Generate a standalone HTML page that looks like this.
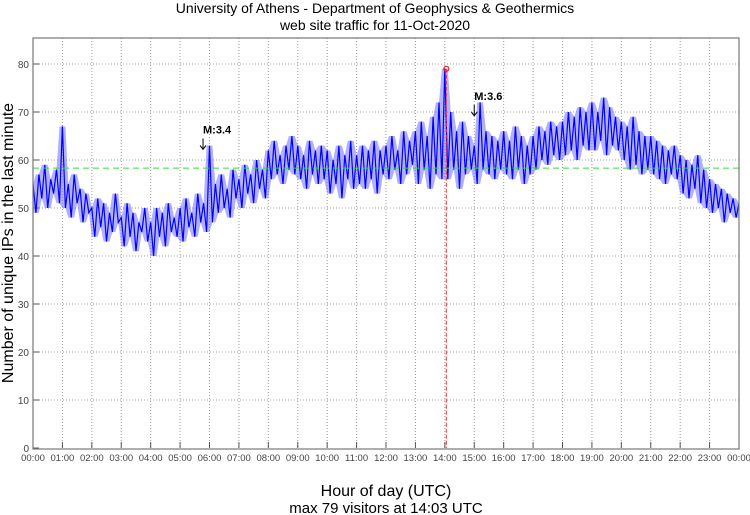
<!DOCTYPE html>
<html><head><meta charset="utf-8"><style>
body{margin:0;background:#fff}
svg{display:block;font-family:"Liberation Sans",sans-serif}
</style></head><body>
<svg id="chart" width="750" height="515">
<text x="375" y="13" text-anchor="middle" font-size="14">University of Athens - Department of Geophysics &amp; Geothermics</text>
<text x="375" y="30" text-anchor="middle" font-size="14">web site traffic for 11-Oct-2020</text>
<g id="grid"></g>
<g id="series"></g>
<g id="ann"></g>
<rect x="33" y="38" width="706" height="411" fill="none" stroke="#777" stroke-width="1.2"/>
<text transform="translate(13,243) rotate(-90)" text-anchor="middle" font-size="16">Number of unique IPs in the last minute</text>
<text x="386" y="496" text-anchor="middle" font-size="16">Hour of day (UTC)</text>
<text x="386" y="513" text-anchor="middle" font-size="15">max 79 visitors at 14:03 UTC</text>
</svg>
<script>
const yTicks=[0,10,20,30,40,50,60,70,80];
const xTickLabels=["00:00","01:00","02:00","03:00","04:00","05:00","06:00","07:00","08:00","09:00","10:00","11:00","12:00","13:00","14:00","15:00","16:00","17:00","18:00","19:00","20:00","21:00","22:00","23:00","00:00"];
const values=[55,49,57,52,59,50,56,53,58,51,
67,50,55,48,57,51,54,47,53,49,
50,44,52,46,51,43,49,45,53,47,
48,42,51,44,49,41,47,45,50,43,
47,40,50,44,49,42,51,45,48,44,
50,43,52,46,49,44,53,47,51,45,
63,47,55,49,57,50,54,48,58,52,
56,50,59,53,57,51,60,54,58,52,
62,56,64,57,61,55,63,58,65,57,
63,56,61,54,64,57,62,55,63,56,
62,53,60,55,63,52,61,56,64,54,
61,55,63,54,62,56,64,53,62,57,
63,56,65,58,62,55,66,57,64,59,
66,55,68,58,65,54,69,57,72,56,
79,56,70,58,66,54,68,57,65,58,
63,55,72,58,66,57,65,56,64,58,
66,57,64,56,67,58,65,55,63,57,
65,58,67,60,66,59,68,61,67,60,
68,61,70,62,69,60,71,63,70,62,
72,62,70,64,73,61,71,63,69,62,
68,60,67,58,69,59,66,57,65,58,
65,57,64,56,63,55,62,57,63,56,
61,53,60,52,59,54,61,51,58,50,
56,49,55,50,54,47,53,49,52,48,
51];
const meanValue=[58.3];
const maxPoint=[14.05,79];
const events=[{label:"M:3.4",hour:5.78,value:62},{label:"M:3.6",hour:15.0,value:69}];
const NS="http://www.w3.org/2000/svg";
const X0=33,X1=739,Y0=448,PPU=4.8;
const xs=h=>X0+h*(X1-X0)/24;
const ys=v=>Y0-v*PPU;
function mk(tag,attrs,parent){const e=document.createElementNS(NS,tag);for(const k in attrs)e.setAttribute(k,attrs[k]);parent.appendChild(e);return e;}
const grid=document.getElementById('grid');
yTicks.forEach(t=>{
 if(t>0){const l=mk('line',{x1:X0,x2:X1,y1:ys(t),y2:ys(t),stroke:'#999','stroke-dasharray':'1,2'},grid);
 
 }
 const tk=mk('line',{x1:X0,x2:X0+6,y1:ys(t),y2:ys(t),stroke:'#555'},grid);
 
 
 const tx=mk('text',{x:X0-4,y:ys(t)+4,'text-anchor':'end','font-size':10,fill:'#444'},grid);
 tx.textContent=t;
 
 
});
xTickLabels.forEach((lab,i)=>{
 const x=xs(i);
 if(i>0&&i<24){const l=mk('line',{x1:x,x2:x,y1:38,y2:Y0,stroke:'#999','stroke-dasharray':'1,2'},grid);
 
 }
 const tk=mk('line',{x1:x,x2:x,y1:Y0-6,y2:Y0,stroke:'#555'},grid);
 
 
 const tx=mk('text',{x:x,y:461,'text-anchor':'middle','font-size':9.5,fill:'#444'},grid);
 tx.textContent=lab;
 
 
});
const ser=document.getElementById('series');
const step=24/(values.length-1);
// envelope band from neighbouring values
const up=[],lo=[];
values.forEach((v,i)=>{
 const a=values[Math.max(0,i-1)],b=values[Math.min(values.length-1,i+1)];
 up.push(xs(i*step).toFixed(1)+','+ys(Math.max(v,a,b)).toFixed(1));
 lo.push(xs(i*step).toFixed(1)+','+ys(Math.min(v,a,b)).toFixed(1));
});
const band=mk('polygon',{points:up.concat(lo.reverse()).join(' '),fill:'#7070ff','fill-opacity':0.55,stroke:'none'},ser);


const pts=values.map((v,i)=>xs(i*step).toFixed(1)+','+ys(v).toFixed(1)).join(' ');
const pl=mk('polyline',{points:pts,fill:'none',stroke:'#0000ff','stroke-width':1.2},ser);


const ml=mk('line',{x1:X0,x2:X1,y1:ys(meanValue[0]),y2:ys(meanValue[0]),stroke:'#33dd33','stroke-dasharray':'6,4'},ser);


const ann=document.getElementById('ann');
const mx=xs(maxPoint[0]);
const vl=mk('line',{x1:mx,x2:mx,y1:ys(maxPoint[1]),y2:Y0,stroke:'#ee3333','stroke-dasharray':'4,2'},ann);


const mc=mk('circle',{cx:mx,cy:ys(maxPoint[1]),r:2.5,fill:'none',stroke:'#ee2222','stroke-width':1.2},ann);


events.forEach(ev=>{
 const x=xs(ev.hour),y=ys(ev.value);
 const g=mk('g',{},ann);
 
 
 mk('line',{x1:x,x2:x,y1:y-12,y2:y-2,stroke:'#000'},g);
 mk('path',{d:`M${x-3},${y-5} L${x},${y-1} L${x+3},${y-5}`,fill:'none',stroke:'#000'},g);
 const t=mk('text',{x:x,y:y-17,'font-size':11,'font-weight':'bold'},g);
 t.textContent=ev.label;
});
</script>
</body></html>
